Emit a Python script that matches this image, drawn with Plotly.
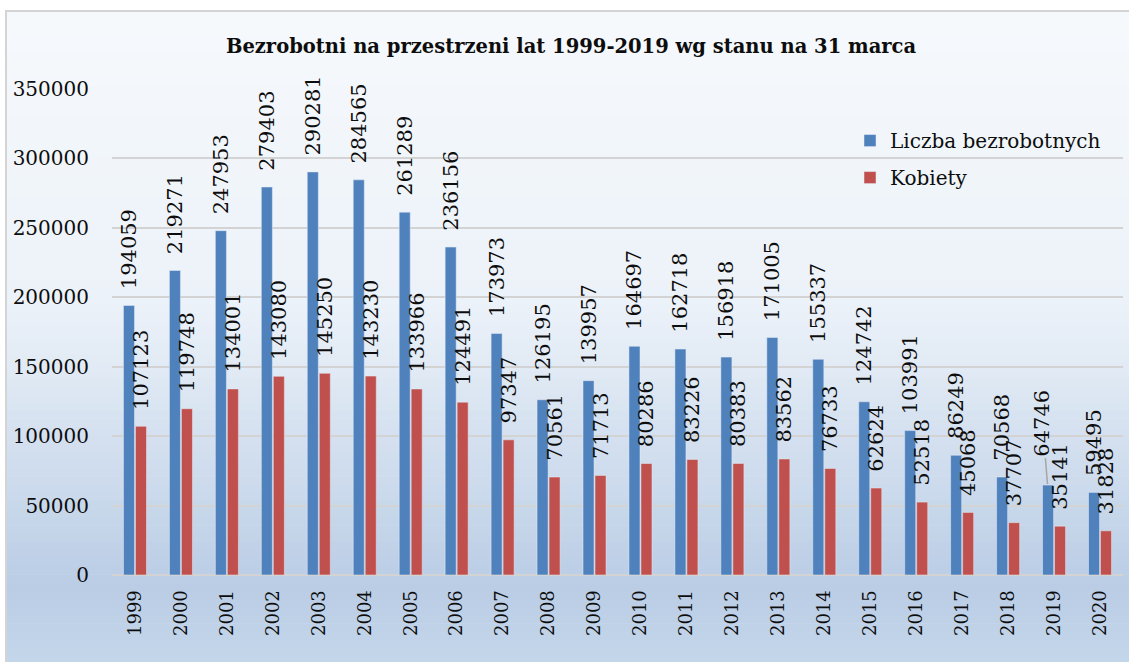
import plotly.graph_objects as go

years = ["1999", "2000", "2001", "2002", "2003", "2004", "2005", "2006", "2007", "2008", "2009",
         "2010", "2011", "2012", "2013", "2014", "2015", "2016", "2017", "2018", "2019", "2020"]
total = [194059, 219271, 247953, 279403, 290281, 284565, 261289, 236156, 173973, 126195, 139957,
         164697, 162718, 156918, 171005, 155337, 124742, 103991, 86249, 70568, 64746, 59495]
women = [107123, 119748, 134001, 143080, 145250, 143230, 133966, 124491, 97347, 70561, 71713,
         80286, 83226, 80383, 83562, 76733, 62624, 52518, 45068, 37707, 35141, 31828]
y_ticks = [0, 50000, 100000, 150000, 200000, 250000, 300000, 350000]

W, H = 1129, 662
ML, MR, MT, MB = 112, 6, 89, 87
PW, PH = W - ML - MR, H - MT - MB

FONT = "DejaVu Serif"
BLUE = "#4F81BD"
RED = "#C0504D"
TXT = "#0d0d0d"

pad = "\u00a0\u00a0"
shifted = "2019"  # this label is moved aside with a leader line
total_text = [("" if yr == shifted else pad + str(v)) for yr, v in zip(years, total)]
women_text = [pad + str(v) for v in women]

fig = go.Figure()
fig.add_trace(go.Bar(
    x=years, y=total, name="Liczba bezrobotnych", marker_color=BLUE,
    text=total_text, textposition="outside", textangle=-90, cliponaxis=False,
    constraintext="none", outsidetextfont=dict(family=FONT, size=21, color=TXT),
    legendgroup="a",
))
fig.add_trace(go.Bar(
    x=years, y=women, name="Kobiety", marker_color=RED,
    text=women_text, textposition="outside", textangle=-90, cliponaxis=False,
    constraintext="none", outsidetextfont=dict(family=FONT, size=21, color=TXT),
    legendgroup="b",
))

i19 = years.index(shifted)
fig.add_annotation(
    xref="x", yref="y", x=i19, y=total[i19], text=str(total[i19]), textangle=-90,
    font=dict(family=FONT, size=21, color=TXT), xshift=-6.5,
    showarrow=True, arrowhead=0, arrowwidth=1.5, arrowcolor="#A6A6A6",
    axref="pixel", ayref="pixel", ax=-5, ay=-62, standoff=1,
)

# background gradient (styling)
stops = [(0.0, (246, 249, 252)), (0.45, (236, 242, 249)), (0.88, (186, 205, 229)), (1.0, (197, 214, 234))]


def col_at(t):
    for (t0, c0), (t1, c1) in zip(stops[:-1], stops[1:]):
        if t <= t1:
            f = (t - t0) / (t1 - t0) if t1 > t0 else 0
            return "rgb(%d,%d,%d)" % tuple(round(a + (b - a) * f) for a, b in zip(c0, c1))
    return "rgb(%d,%d,%d)" % stops[-1][1]


top_px, bot_px, left_px = 11, H + 2, 6
nb = 80
shapes = []
for k in range(nb):
    y0p = top_px + (bot_px - top_px) * k / nb
    y1p = top_px + (bot_px - top_px) * (k + 1) / nb + 0.6
    shapes.append(dict(
        type="rect", xref="paper", yref="paper", layer="below",
        x0=(left_px - ML) / PW, x1=(W + 2 - ML) / PW,
        y0=1 - (y1p - MT) / PH, y1=1 - (y0p - MT) / PH,
        fillcolor=col_at((k + 0.5) / nb), line=dict(width=0),
    ))
shapes.append(dict(
    type="rect", xref="paper", yref="paper", layer="below",
    x0=(left_px - ML) / PW, x1=(W + 5 - ML) / PW,
    y0=1 - (H + 5 - MT) / PH, y1=1 - (top_px - MT) / PH,
    fillcolor="rgba(0,0,0,0)", line=dict(color="#D4D4D4", width=2),
))

fig.update_layout(
    width=W, height=H,
    margin=dict(l=ML, r=MR, t=MT, b=MB, pad=0),
    paper_bgcolor="white", plot_bgcolor="rgba(0,0,0,0)",
    shapes=shapes,
    barmode="group", bargap=0.478, bargroupgap=0.08,
    title=dict(text="<b>Bezrobotni na przestrzeni lat 1999-2019 wg stanu na 31 marca</b>",
               x=571 / W, xanchor="center", y=1 - 46 / H, yanchor="middle",
               font=dict(family=FONT, size=19.5, color=TXT)),
    font=dict(family=FONT, color=TXT),
    legend=dict(x=(850 - ML) / PW, xanchor="left", y=0.934, yanchor="top",
                bgcolor="rgba(0,0,0,0)", font=dict(family=FONT, size=20, color=TXT),
                tracegroupgap=8, traceorder="grouped"),
    xaxis=dict(type="category", tickangle=-90, tickfont=dict(family=FONT, size=18, color=TXT),
               showgrid=False, showline=False, ticks="outside", ticklen=7,
               tickcolor="rgba(0,0,0,0)", automargin=False),
    yaxis=dict(range=[0, 350000], tickvals=y_ticks, ticktext=[str(v) for v in y_ticks],
               tickfont=dict(family=FONT, size=20, color=TXT),
               showgrid=True, gridcolor="#D3D3D3", gridwidth=2,
               zeroline=True, zerolinecolor="#D3D3D3", zerolinewidth=2,
               ticks="", ticklabelstandoff=22, automargin=False),
)

fig.write_html("out.html", config={"displayModeBar": False},
               post_script="document.body.style.margin='0px';")
